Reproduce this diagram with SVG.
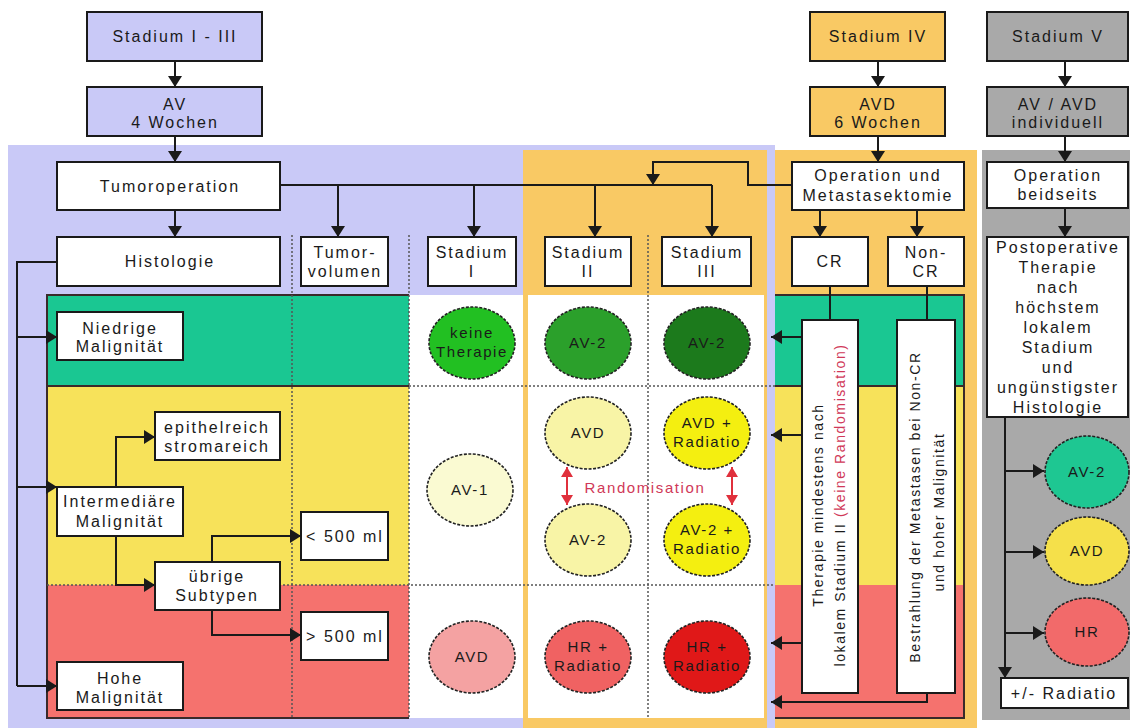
<svg xmlns="http://www.w3.org/2000/svg" width="1130" height="728" viewBox="0 0 1130 728">
<style>
.box{fill:#fff;stroke:#1a1a1a;stroke-width:2}
.lav{fill:#c9c9f7}
.org{fill:#f9c964}
.gry{fill:#a9a9a9}
.t{font-family:"Liberation Sans",Arial,sans-serif;font-size:16px;letter-spacing:2px;fill:#1a1a1a;text-anchor:middle}
.s{font-size:15px;letter-spacing:1.6px}
.v{font-size:14px;letter-spacing:1.6px;text-anchor:middle}
.c{stroke:#1a1a1a;stroke-width:2;fill:none}
.ca{stroke:#1a1a1a;stroke-width:2;fill:none;marker-end:url(#ah)}
.rc{stroke:#e0303c;stroke-width:2;fill:none;marker-end:url(#ahr);marker-start:url(#ahr)}
.e{stroke:#222;stroke-width:1.6;stroke-dasharray:3 1.5}
.dot{stroke:#555;stroke-width:1.5;stroke-dasharray:2 2;fill:none}
.bord{stroke:#3a2a2a;stroke-width:2;fill:none}
.red{fill:#d03858}
</style>
<defs>
<marker id="ah" viewBox="0 0 11 14" refX="11" refY="7" markerWidth="11" markerHeight="14" markerUnits="userSpaceOnUse" orient="auto"><path d="M0,0 L11,7 L0,14 z" fill="#1a1a1a"/></marker>
<marker id="ahr" viewBox="0 0 10 12" refX="10" refY="6" markerWidth="10" markerHeight="12" markerUnits="userSpaceOnUse" orient="auto-start-reverse"><path d="M0,0 L10,6 L0,12 z" fill="#e0303c"/></marker>
</defs>
<rect width="1130" height="728" fill="#fff"/>

<!-- panels -->
<g id="panels">
<rect class="lav" x="8" y="145" width="767" height="583"/>
<rect fill="#fff" x="409" y="295" width="114" height="423"/>
<rect class="org" x="523" y="150" width="244" height="578"/>
<rect fill="#fff" x="528" y="295" width="236" height="423"/>
<rect class="org" x="775" y="150" width="202" height="578"/>
<rect class="gry" x="982" y="150" width="148" height="570"/>
</g>

<!-- bands -->
<g id="bands">
<rect fill="#1ac792" x="47" y="295" width="362" height="91"/>
<rect fill="#f7e25a" x="47" y="386" width="362" height="199"/>
<rect fill="#f5726e" x="47" y="585" width="362" height="133"/>
<path class="bord" d="M409,295 H47 V718 H409 M47,386 H409"/>
<rect fill="#1ac792" x="775" y="295" width="189" height="91"/>
<rect fill="#f7e25a" x="775" y="386" width="189" height="199"/>
<rect fill="#f5726e" x="775" y="585" width="189" height="133"/>
<path class="bord" d="M775,295 H964 V718 H775 M775,386 H964"/>
<path class="dot" d="M292,235 V718 M409,235 V718 M648,235 V718 M409,386 H775 M47,585 H775"/>
</g>

<!-- connectors -->
<g id="connectors">
<path class="ca" d="M175,61 V87"/>
<path class="ca" d="M175,136 V162"/>
<path class="ca" d="M175,210 V237"/>
<path class="c" d="M280,185 H712"/>
<path class="ca" d="M338,185 V237"/>
<path class="ca" d="M474,185 V237"/>
<path class="ca" d="M595,185 V237"/>
<path class="ca" d="M712,185 V237"/>
<path class="ca" d="M792,185 H748 V162 H653 V185"/>
<path class="ca" d="M878,61 V87"/>
<path class="ca" d="M878,136 V162"/>
<path class="ca" d="M820,210 V237"/>
<path class="ca" d="M917,210 V237"/>
<path class="c" d="M830,286 V320"/>
<path class="c" d="M927,286 V320"/>
<path class="ca" d="M802,337 H771"/>
<path class="ca" d="M802,435 H771"/>
<path class="ca" d="M802,643 H771"/>
<path class="ca" d="M927,693 V702 H771"/>
<path class="ca" d="M1065,61 V87"/>
<path class="ca" d="M1065,136 V162"/>
<path class="ca" d="M1065,208 V237"/>
<path class="ca" d="M1005,417 V678"/>
<path class="ca" d="M1005,471 H1044"/>
<path class="ca" d="M1005,552 H1044"/>
<path class="ca" d="M1005,633 H1044"/>
<path class="c" d="M57,262 H17 V686"/>
<path class="ca" d="M17,337 H57"/>
<path class="ca" d="M17,487 H57"/>
<path class="ca" d="M17,686 H57"/>
<path class="ca" d="M116,487 V437 H155"/>
<path class="ca" d="M116,536 V585 H155"/>
<path class="ca" d="M212,562 V536 H301"/>
<path class="ca" d="M212,610 V635 H301"/>
<path class="rc" d="M567,467 V505"/>
<path class="rc" d="M732,467 V505"/>
</g>

<!-- top nodes -->
<g id="n-stadium-1-3"><rect class="box lav" x="87" y="12" width="175" height="49"/><text class="t" x="175" y="42">Stadium I - III</text></g>
<g id="n-av-4"><rect class="box lav" x="87" y="87" width="175" height="49"/><text class="t" x="175" y="110">AV</text><text class="t" x="175" y="128">4 Wochen</text></g>
<g id="n-stadium-4"><rect class="box org" x="810" y="12" width="135" height="49"/><text class="t" x="878" y="42">Stadium IV</text></g>
<g id="n-avd-6"><rect class="box org" x="810" y="87" width="135" height="49"/><text class="t" x="878" y="110">AVD</text><text class="t" x="878" y="128">6 Wochen</text></g>
<g id="n-stadium-5"><rect class="box gry" x="987" y="12" width="141" height="49"/><text class="t" x="1058" y="42">Stadium V</text></g>
<g id="n-av-avd-ind"><rect class="box gry" x="987" y="87" width="141" height="49"/><text class="t" x="1058" y="110">AV / AVD</text><text class="t" x="1058" y="128">individuell</text></g>

<!-- boxes -->
<g id="n-tumorop"><rect class="box" x="57" y="162" width="223" height="48"/><text class="t" x="170" y="192">Tumoroperation</text></g>
<g id="n-histologie"><rect class="box" x="57" y="237" width="223" height="49"/><text class="t" x="170" y="267">Histologie</text></g>
<g id="n-tumorvol"><rect class="box" x="301" y="237" width="87" height="49"/><text class="t" x="345" y="258">Tumor-</text><text class="t" x="345" y="277">volumen</text></g>
<g id="n-st1"><rect class="box" x="428" y="237" width="88" height="49"/><text class="t" x="472" y="258">Stadium</text><text class="t" x="472" y="277">I</text></g>
<g id="n-st2"><rect class="box" x="545" y="237" width="86" height="49"/><text class="t" x="588" y="258">Stadium</text><text class="t" x="588" y="277">II</text></g>
<g id="n-st3"><rect class="box" x="662" y="237" width="89" height="49"/><text class="t" x="707" y="258">Stadium</text><text class="t" x="707" y="277">III</text></g>
<g id="n-opmet"><rect class="box" x="792" y="162" width="172" height="48"/><text class="t" x="878" y="181">Operation und</text><text class="t" x="878" y="201">Metastasektomie</text></g>
<g id="n-cr"><rect class="box" x="792" y="237" width="76" height="49"/><text class="t" x="830" y="267">CR</text></g>
<g id="n-noncr"><rect class="box" x="888" y="237" width="76" height="49"/><text class="t" x="926" y="258">Non-</text><text class="t" x="926" y="277">CR</text></g>
<g id="n-opbeid"><rect class="box" x="987" y="162" width="141" height="46"/><text class="t" x="1058" y="181">Operation</text><text class="t" x="1058" y="200">beidseits</text></g>
<g id="n-postop"><rect class="box" x="987" y="237" width="141" height="180"/>
<text class="t" x="1058" y="253">Postoperative</text><text class="t" x="1058" y="273">Therapie</text><text class="t" x="1058" y="293">nach</text><text class="t" x="1058" y="313">höchstem</text><text class="t" x="1058" y="333">lokalem</text><text class="t" x="1058" y="353">Stadium</text><text class="t" x="1058" y="373">und</text><text class="t" x="1058" y="393">ungünstigster</text><text class="t" x="1058" y="413">Histologie</text></g>
<g id="n-niedrig"><rect class="box" x="57" y="312" width="126" height="48"/><text class="t" x="120" y="334">Niedrige</text><text class="t" x="120" y="352">Malignität</text></g>
<g id="n-epithel"><rect class="box" x="155" y="412" width="125" height="48"/><text class="t" x="217" y="433">epithelreich</text><text class="t" x="217" y="452">stromareich</text></g>
<g id="n-intermed"><rect class="box" x="57" y="487" width="126" height="49"/><text class="t" x="120" y="507">Intermediäre</text><text class="t" x="120" y="527">Malignität</text></g>
<g id="n-uebrige"><rect class="box" x="155" y="562" width="125" height="48"/><text class="t" x="217" y="582">übrige</text><text class="t" x="217" y="601">Subtypen</text></g>
<g id="n-lt500"><rect class="box" x="301" y="512" width="87" height="48"/><text class="t" x="345" y="542">&lt; 500 ml</text></g>
<g id="n-gt500"><rect class="box" x="301" y="612" width="87" height="48"/><text class="t" x="345" y="642">&gt; 500 ml</text></g>
<g id="n-hohe"><rect class="box" x="57" y="662" width="126" height="48"/><text class="t" x="120" y="684">Hohe</text><text class="t" x="120" y="703">Malignität</text></g>
<g id="n-tall1"><rect class="box" x="802" y="320" width="56" height="373"/>
<text class="t v" transform="translate(823,505) rotate(-90)">Therapie mindestens nach</text>
<text class="t v" transform="translate(845,505) rotate(-90)">lokalem Stadium II <tspan class="red">(keine Randomisation)</tspan></text></g>
<g id="n-tall2"><rect class="box" x="897" y="320" width="58" height="373"/>
<text class="t v" transform="translate(920,507) rotate(-90)">Bestrahlung der Metastasen bei Non-CR</text>
<text class="t v" transform="translate(944,512) rotate(-90)">und hoher Malignität</text></g>
<g id="n-radiatio"><rect class="box" x="1001" y="678" width="127" height="30"/><text class="t" x="1064" y="699">+/- Radiatio</text></g>

<!-- circles -->
<g id="c-keine"><ellipse class="e" cx="472" cy="343" rx="43" ry="36" fill="#22c022"/><text class="t s" x="472" y="338">keine</text><text class="t s" x="472" y="357">Therapie</text></g>
<g id="c-av2-g2"><ellipse class="e" cx="588" cy="343" rx="43" ry="36" fill="#2ba02b"/><text class="t s" x="588" y="348">AV-2</text></g>
<g id="c-av2-g3"><ellipse class="e" cx="707" cy="343" rx="43" ry="36" fill="#1c7a1c"/><text class="t s" x="707" y="348">AV-2</text></g>
<g id="c-av1"><ellipse class="e" cx="470" cy="490" rx="43" ry="36" fill="#fafad2"/><text class="t s" x="470" y="495">AV-1</text></g>
<g id="c-avd-y2"><ellipse class="e" cx="588" cy="433" rx="43" ry="36" fill="#f8f4a6"/><text class="t s" x="588" y="438">AVD</text></g>
<g id="c-avdrad-y3"><ellipse class="e" cx="707" cy="433" rx="43" ry="36" fill="#f4ef10"/><text class="t s" x="707" y="428">AVD +</text><text class="t s" x="707" y="447">Radiatio</text></g>
<g id="c-av2-y2"><ellipse class="e" cx="588" cy="540" rx="43" ry="36" fill="#f8f4a6"/><text class="t s" x="588" y="545">AV-2</text></g>
<g id="c-av2rad-y3"><ellipse class="e" cx="707" cy="540" rx="43" ry="36" fill="#f4ef10"/><text class="t s" x="707" y="535">AV-2 +</text><text class="t s" x="707" y="554">Radiatio</text></g>
<g id="c-avd-r1"><ellipse class="e" cx="472" cy="657" rx="43" ry="36" fill="#f4a2a2"/><text class="t s" x="472" y="662">AVD</text></g>
<g id="c-hr-r2"><ellipse class="e" cx="588" cy="657" rx="43" ry="36" fill="#f06262"/><text class="t s" x="588" y="652">HR +</text><text class="t s" x="588" y="671">Radiatio</text></g>
<g id="c-hr-r3"><ellipse class="e" cx="707" cy="657" rx="43" ry="36" fill="#e01818"/><text class="t s" x="707" y="652">HR +</text><text class="t s" x="707" y="671">Radiatio</text></g>
<g id="c-av2-v"><ellipse class="e" cx="1087" cy="472" rx="42" ry="36" fill="#1ec792"/><text class="t s" x="1087" y="477">AV-2</text></g>
<g id="c-avd-v"><ellipse class="e" cx="1087" cy="551" rx="42" ry="34" fill="#f5e04a"/><text class="t s" x="1087" y="556">AVD</text></g>
<g id="c-hr-v"><ellipse class="e" cx="1087" cy="632" rx="42" ry="34" fill="#f26a6a"/><text class="t s" x="1087" y="637">HR</text></g>

<text id="randomisation" class="t s" x="645" y="493" style="fill:#d03858">Randomisation</text>
</svg>
